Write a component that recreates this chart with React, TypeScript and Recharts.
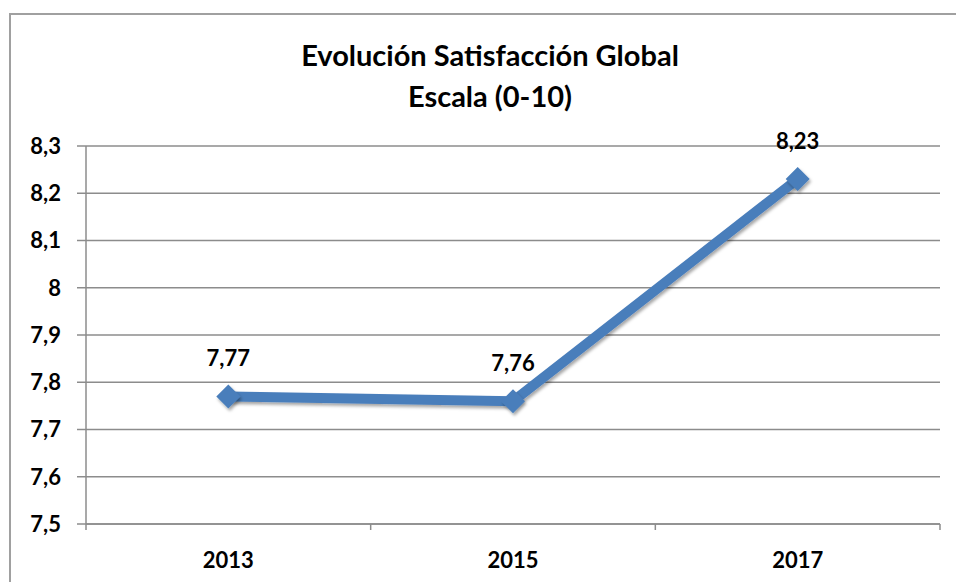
import { LineChart, Line, XAxis, YAxis, CartesianGrid, LabelList } from "recharts";

const years = ["2013", "2015", "2017"];
const satisfaction = [7.77, 7.76, 8.23];
const yTicks = [7.5, 7.6, 7.7, 7.8, 7.9, 8, 8.1, 8.2, 8.3];

const data = years.map((y, i) => ({ year: y, value: satisfaction[i] }));

const FONT = "Lato, 'Open Sans', sans-serif";
const BLUE = "#4A7EBB";
const GRID = "#8C8C8C";

const fmt = (v: number) => String(v).replace(".", ",");

const Diamond = ({ cx, cy }: { cx?: number; cy?: number }) => {
  if (cx == null || cy == null) return null;
  const r = 12;
  return (
    <path
      d={`M${cx},${cy - r} L${cx + r},${cy} L${cx},${cy + r} L${cx - r},${cy} Z`}
      fill={BLUE}
      filter="url(#shadow)"
    />
  );
};

const YearTick = (props: any) => {
  const { x, y, payload, index } = props;
  const half = payload.offset ?? 0;
  return (
    <g>
      <line x1={x - half} x2={x - half} y1={y - 8} y2={y - 2} stroke={GRID} strokeWidth={1.5} />
      {index === years.length - 1 && (
        <line x1={x + half} x2={x + half} y1={y - 8} y2={y - 2} stroke={GRID} strokeWidth={1.5} />
      )}
      <text x={x} y={y + 36} textAnchor="middle" fontFamily={FONT} fontWeight="bold" fontSize={22} fill="#000">
        {payload.value}
      </text>
    </g>
  );
};

export default function App() {
  return (
    <div style={{ position: "absolute", left: 0, top: 0, width: 956, height: 582, background: "#fff", overflow: "hidden" }}>
      <div
        style={{
          position: "absolute",
          left: 9,
          top: 13,
          width: 960,
          height: 600,
          borderLeft: "2px solid #A0A0A0",
          borderTop: "2px solid #A0A0A0",
        }}
      />
      <div
        style={{
          position: "absolute",
          left: 0,
          top: 34,
          width: 980,
          textAlign: "center",
          fontFamily: FONT,
          fontWeight: "bold",
          fontSize: 29,
          lineHeight: "41px",
          color: "#000",
        }}
      >
        Evolución Satisfacción Global
        <br />
        Escala (0-10)
      </div>
      <div style={{ position: "absolute", left: 0, top: 0 }}>
        <LineChart width={956} height={582} data={data} margin={{ top: 146, right: 16, bottom: 0, left: 0 }}>
          <defs>
            <filter id="shadow" x="-50%" y="-50%" width="200%" height="200%">
              <feDropShadow dx="1.5" dy="2.5" stdDeviation="1.5" floodColor="#000" floodOpacity="0.35" />
            </filter>
          </defs>
          <CartesianGrid vertical={false} stroke={GRID} strokeWidth={1.5} />
          <XAxis
            dataKey="year"
            scale="band"
            height={58}
            axisLine={{ stroke: GRID, strokeWidth: 1.5 }}
            tickLine={false}
            tick={<YearTick />}
            interval={0}
          />
          <YAxis
            width={86}
            domain={[7.5, 8.3]}
            ticks={yTicks}
            interval={0}
            tickFormatter={fmt}
            axisLine={{ stroke: GRID, strokeWidth: 1.5 }}
            tickLine={{ stroke: GRID, strokeWidth: 1.5 }}
            tickSize={9}
            tickMargin={16}
            tick={{ fontFamily: FONT, fontWeight: "bold", fontSize: 22, fill: "#000" }}
          />
          <Line
            dataKey="value"
            stroke={BLUE}
            strokeWidth={10}
            isAnimationActive={false}
            dot={<Diamond />}
            activeDot={false}
            filter="url(#shadow)"
          >
            <LabelList
              dataKey="value"
              position="top"
              offset={30}
              formatter={(v: any) => fmt(v)}
              style={{ fontFamily: FONT, fontWeight: "bold", fontSize: 22, fill: "#000" }}
            />
          </Line>
        </LineChart>
      </div>
    </div>
  );
}
